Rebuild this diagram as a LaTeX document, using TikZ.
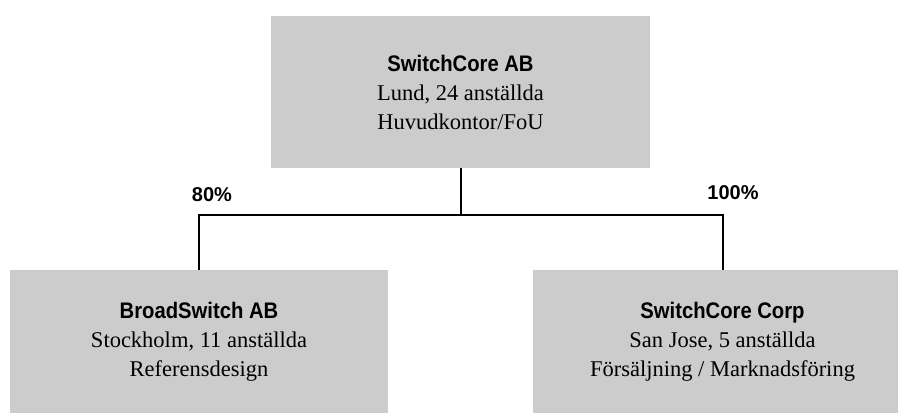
\documentclass[tikz,border=0pt]{standalone}
\usepackage{fontspec}
\setmainfont{Liberation Serif}
\newfontfamily\headfont[FakeStretch=0.9]{Liberation Sans}
\newfontfamily\sharefont{Liberation Sans}
\begin{document}
\begin{tikzpicture}
	\tikzstyle{firm} = [ fill=black!20, rectangle, inner sep=0pt, align=center, font={\fontsize{22.5}{29}\selectfont} ];
	\tikzstyle{link} = [ draw, line width=2pt ];
	\tikzstyle{share} = [ font={\sharefont\bfseries\fontsize{20}{22}\selectfont} ];

	\useasboundingbox (0,0) rectangle (898pt,-414pt);

	\node[firm, minimum width=379pt, minimum height=152pt] (core) at (460.5pt,-92pt)
		{{\headfont\bfseries SwitchCore AB}\\ Lund, 24 anställda\\ Huvudkontor/FoU};
	\node[firm, minimum width=378pt, minimum height=143pt] (broad) at (199pt,-341.5pt)
		{{\headfont\bfseries BroadSwitch AB}\\ Stockholm, 11 anställda\\ Referensdesign};
	\node[firm, minimum width=379pt, minimum height=143pt] (corp) at (722.5pt,-341.5pt)
		{{\headfont\bfseries SwitchCore Corp}\\ San Jose, 5 anställda\\ Försäljning / Marknadsföring};

	\coordinate (fork) at (460.5pt,-215pt);

	\draw[link] (core) -- (fork);
	\draw[link] (fork) -| (broad);
	\draw[link] (fork) -| (corp);

	\node[share] (p80) at (212pt,-195pt) {80\%};
	\node[share] (p100) at (733pt,-193pt) {100\%};
\end{tikzpicture}
\end{document}
